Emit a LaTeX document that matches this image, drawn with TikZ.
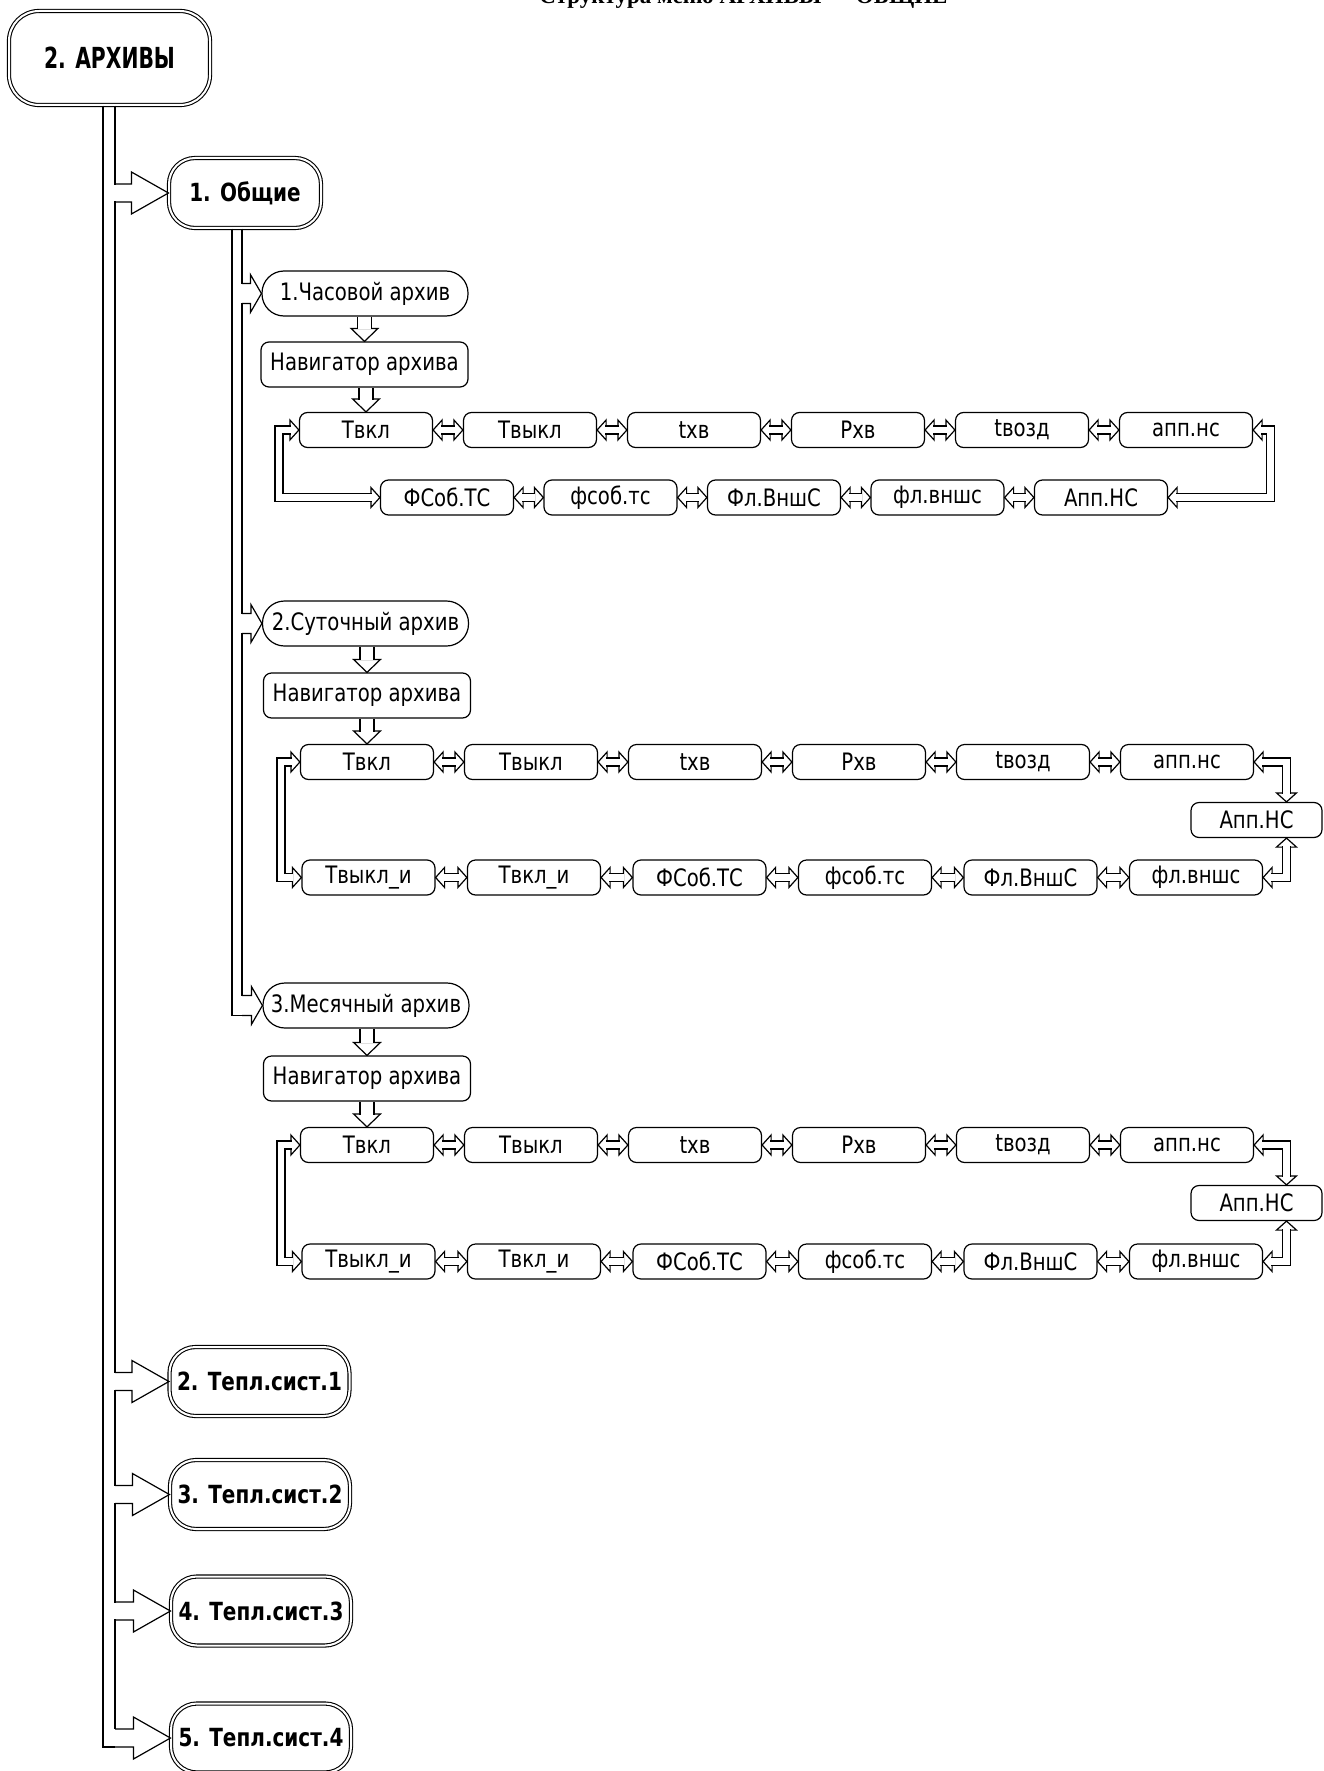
\documentclass[tikz,border=0pt]{standalone}
\usepackage{fontspec}
\setmainfont{DejaVu Sans}
\newfontfamily\boxfont[FakeStretch=0.82]{DejaVu Sans}
\newfontfamily\bfont[FakeStretch=0.8]{DejaVu Sans}
\newfontfamily\afont[FakeStretch=0.7]{DejaVu Sans}
\newfontfamily\titlefont{Liberation Serif}
\usetikzlibrary{calc}

\tikzset{
 ln/.style={line width=1.2pt, line join=miter},
 hd/.style={ln, fill=white},
 pipe/.style={draw=black, line width=1.2pt, double=white, double distance=6.8pt},
 bigpipe/.style={draw=black, line width=1.2pt, double=white, double distance=12.8pt},
 bx/.style={draw, line width=1.2pt, rounded corners=8pt, minimum width=133pt, minimum height=35pt, inner sep=0pt, font=\boxfont\fontsize{24}{28}\selectfont},
 nav/.style={bx, minimum width=207pt, minimum height=45pt},
 sec/.style={bx, rounded corners=22pt, minimum width=206pt, minimum height=45pt},
 big/.style={draw, line width=1.1pt, double=white, double distance=2pt, rounded corners=26pt, inner sep=0pt, font=\bfont\bfseries\fontsize{25}{30}\selectfont, minimum width=180pt, minimum height=69pt},
}

% arrow heads (tip at #1)
\newcommand\arR[1]{\draw[hd] (#1) -- ++(-9,-10) -- ++(0,20) -- cycle;}
\newcommand\arL[1]{\draw[hd] (#1) -- ++(9,-10) -- ++(0,20) -- cycle;}
\newcommand\arD[1]{\draw[hd] (#1) -- ++(-10,-9) -- ++(20,0) -- cycle;}
\newcommand\arU[1]{\draw[hd] (#1) -- ++(-10,9) -- ++(20,0) -- cycle;}
% double-headed horizontal pipe between two nodes
\newcommand\lrpipe[2]{\arL{#1.east}\arR{#2.west}\draw[pipe] ($(#1.east)+(8.3,0)$) -- ($(#2.west)+(-8.3,0)$);}
% big down arrow
\newcommand\dnarrow[2]{%
  \draw[hd] (#2.north) -- ++(-13.5,-13) -- ++(27,0) -- cycle;
  \draw[bigpipe] ($(#2.north |- #1.south)+(0,0.7)$) -- ($(#2.north)+(0,-12.3)$);}
% branch from trunk (#1 right line coordinate) to node #2; #3 shaft half, #4 head half, #5 head length
\newcommand\brancharrow[5]{%
  \fill[white] ($(#2.west -| #1)+(-1.5,-#3+0.6)$) rectangle ($(#2.west -| #1)+(1.5,#3-0.6)$);
  \draw[ln] ($(#2.west -| #1)+(0,-#3)$) -- ($(#2.west)+(-#5,-#3)$) -- ($(#2.west)+(-#5,-#4)$) -- (#2.west) -- ($(#2.west)+(-#5,#4)$) -- ($(#2.west)+(-#5,#3)$) -- ($(#2.west -| #1)+(0,#3)$);}

\begin{document}
\begin{tikzpicture}[x=1pt,y=-1pt]
\path[use as bounding box] (0,0) rectangle (1323,1771);

\node[anchor=base, inner sep=0pt, font=\titlefont\bfseries\fontsize{23}{27}\selectfont] (title) at (743.5,4) {Структура меню АРХИВЫ — ОБЩИЕ};

% main nodes
\node[big, minimum width=201pt, minimum height=94pt, rounded corners=30pt, font=\afont\bfseries\fontsize{29}{34}\selectfont] (arch) at (109.5,58) {2. АРХИВЫ};
\node[big, minimum width=152pt, minimum height=70pt] (obsh) at (245,193) {1. Общие};
\node[big] (t1) at (259.5,1381.5) {2. Тепл.сист.1};
\node[big] (t2) at (260,1494.5) {3. Тепл.сист.2};
\node[big] (t3) at (261,1611) {4. Тепл.сист.3};
\node[big] (t4) at (261,1738) {5. Тепл.сист.4};

% section 1
\node[sec] (hour) at (365,293.5) {1.Часовой архив};
\node[nav] (nav1) at (364.5,364.5) {Навигатор архива};
\foreach \t [count=\i] in {Твкл,Твыкл,tхв,Рхв,tвозд,апп.нс}
  \node[bx] (a\i) at ({366+164*(\i-1)},430) {\t};
\foreach \t [count=\i] in {ФСоб.ТС,фсоб.тс,Фл.ВншС,фл.вншс,Апп.НС}
  \node[bx] (b\i) at ({447+163.5*(\i-1)},497.5) {\t};

% section 2
\node[sec] (day) at (365.5,623.5) {2.Суточный архив};
\node[nav] (nav2) at (367,695.5) {Навигатор архива};
\foreach \t [count=\i] in {Твкл,Твыкл,tхв,Рхв,tвозд,апп.нс}
  \node[bx] (c\i) at ({367+164*(\i-1)},762) {\t};
\foreach \t [count=\i] in {Твыкл\_и,Твкл\_и,ФСоб.ТС,фсоб.тс,Фл.ВншС,фл.вншс}
  \node[bx] (d\i) at ({368.5+165.5*(\i-1)},877.5) {\t};
\node[bx, minimum width=131pt] (e) at (1256.5,820) {Апп.НС};

% section 3
\node[sec] (month) at (366,1005.5) {3.Месячный архив};
\node[nav] (nav3) at (367,1078.5) {Навигатор архива};
\foreach \t [count=\i] in {Твкл,Твыкл,tхв,Рхв,tвозд,апп.нс}
  \node[bx] (f\i) at ({367+164*(\i-1)},1145) {\t};
\foreach \t [count=\i] in {Твыкл\_и,Твкл\_и,ФСоб.ТС,фсоб.тс,Фл.ВншС,фл.вншс}
  \node[bx] (g\i) at ({368.5+165.5*(\i-1)},1261.5) {\t};
\node[bx, minimum width=131pt] (h) at (1256.5,1203) {Апп.НС};

% trunks
\coordinate (mL) at (103,0); \coordinate (mR) at (115,0);
\coordinate (sL) at (232,0); \coordinate (sR) at (242,0);
\draw[ln] (arch.south -| mL) -- ($(t4.west -| mL)+(0,9)$) -- ($(t4.west -| mR)+(0,9)$);
\draw[ln] (arch.south -| mR) -- ($(t4.west -| mR)+(0,-9)$);
\foreach \n in {obsh,t1,t2,t3,t4} {\brancharrow{mR}{\n}{9}{21}{37}}
\draw[ln] (obsh.south -| sL) -- ($(month.west -| sL)+(0,10)$) -- ($(month.west -| sR)+(0,10)$);
\draw[ln] (obsh.south -| sR) -- ($(month.west -| sR)+(0,-10)$);
\foreach \n in {hour,day,month} {\brancharrow{sR}{\n}{10}{19}{11}}

% down arrows
\dnarrow{hour}{nav1} \dnarrow{nav1}{a1}
\dnarrow{day}{nav2} \dnarrow{nav2}{c1}
\dnarrow{month}{nav3} \dnarrow{nav3}{f1}

% horizontal double arrows
\foreach \i/\j in {1/2,2/3,3/4,4/5,5/6} {\lrpipe{a\i}{a\j} \lrpipe{c\i}{c\j} \lrpipe{d\i}{d\j} \lrpipe{f\i}{f\j} \lrpipe{g\i}{g\j}}
\foreach \i/\j in {1/2,2/3,3/4,4/5} {\lrpipe{b\i}{b\j}}

% section 1 loops
\arR{a1.west}\arR{b1.west}
\draw[pipe] ($(a1.west)+(-8.3,0)$) -- ($(a1.west)+(-20,0)$) |- ($(b1.west)+(-8.3,0)$);
\arL{a6.east}\arL{b5.east}
\draw[pipe] ($(a6.east)+(8.3,0)$) -- ($(a6.east)+(17,0)$) |- ($(b5.east)+(8.3,0)$);

% section 2 loops
\arR{c1.west}\arR{d1.west}
\draw[pipe] ($(c1.west)+(-8.3,0)$) -- ($(c1.west)+(-19,0)$) |- ($(d1.west)+(-8.3,0)$);
\arL{c6.east}\arD{$(e.north)+(30,0)$}
\draw[pipe] ($(c6.east)+(8.3,0)$) -| ($(e.north)+(30,-8.3)$);
\arU{$(e.south)+(30,0)$}\arL{d6.east}
\draw[pipe] ($(e.south)+(30,8.3)$) |- ($(d6.east)+(8.3,0)$);

% section 3 loops
\arR{f1.west}\arR{g1.west}
\draw[pipe] ($(f1.west)+(-8.3,0)$) -- ($(f1.west)+(-19,0)$) |- ($(g1.west)+(-8.3,0)$);
\arL{f6.east}\arD{$(h.north)+(30,0)$}
\draw[pipe] ($(f6.east)+(8.3,0)$) -| ($(h.north)+(30,-8.3)$);
\arU{$(h.south)+(30,0)$}\arL{g6.east}
\draw[pipe] ($(h.south)+(30,8.3)$) |- ($(g6.east)+(8.3,0)$);
\end{tikzpicture}
\end{document}
